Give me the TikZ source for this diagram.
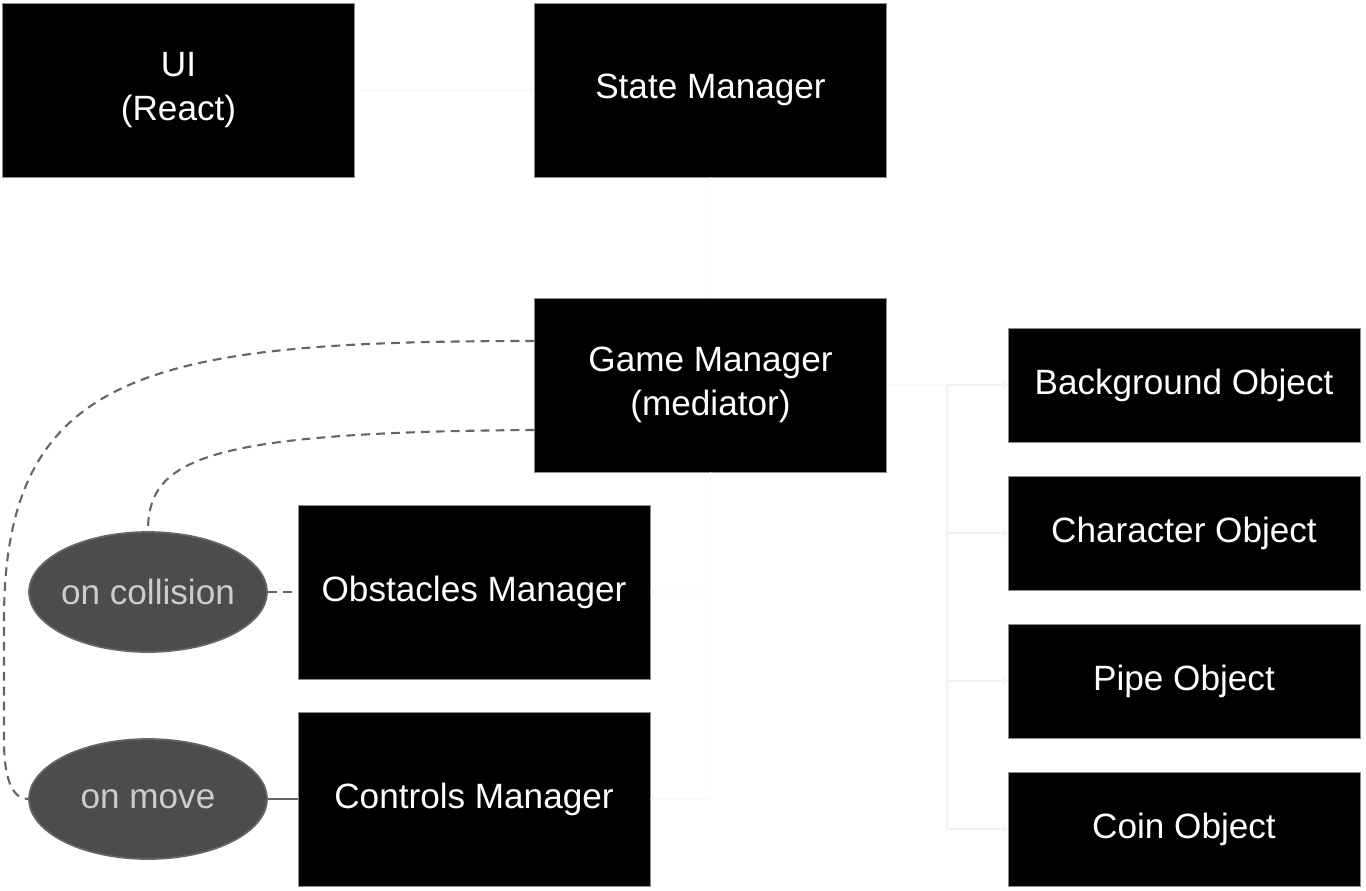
\documentclass[tikz,border=0pt]{standalone}
\usepackage{fontspec}
\setmainfont{Liberation Sans}
\usetikzlibrary{positioning}
\usetikzlibrary{arrows,shapes}
\usetikzlibrary{calc}

\tikzset{
  blk/.style={fill=black, draw=black!45, line width=0.4pt, text=white, align=center,
              minimum width=7.04cm, minimum height=3.48cm, inner sep=0pt,
              font=\fontsize{20}{25}\selectfont},
  obj/.style={blk, minimum height=2.28cm},
  evt/.style={ellipse, fill=black!70, draw=black!60, line width=1pt, text=black!20,
              minimum width=4.76cm, minimum height=2.4cm, inner ysep=0pt, inner xsep=-2pt,
              font=\fontsize{20}{25}\selectfont},
  faint/.style={draw=black!2, line width=1pt, ->},
  tree/.style={faint, draw=black!5},
  evtline/.style={draw=black!60, line width=1.2pt},
  evtdash/.style={evtline, dash pattern=on 5pt off 3.5pt},
}

\begin{document}
\begin{tikzpicture}[x=0.02cm, y=-0.02cm]

  \useasboundingbox (0,0) rectangle (1366,890);

  %draw managers
  \node[blk] (ui)    at (178.5,90)  {UI\\(React)};
  \node[blk] (state) at (710.5,90)  {State Manager};
  \node[blk] (game)  at (710.5,385) {Game Manager\\(mediator)};
  \node[blk] (obst)  at (474,592)   {Obstacles Manager};
  \node[blk] (ctrl)  at (474,799)   {Controls Manager};

  %draw objects
  \foreach \i/\txt/\name in {0/Background Object/bg, 1/Character Object/chr, 2/Pipe Object/pipe, 3/Coin Object/coin}{
      \node[obj] (\name) at (1184, 385+\i*148) {\txt};
  }

  %events
  \node[evt] (coll) at (148,592) {on collision};
  \node[evt] (move) at (148,799) {on move};

  %faint links
  \draw[faint] (ui) -- (state);
  \draw[faint] (game) -- (state);
  \draw[faint] (game.south) |- (obst.east);
  \draw[faint] (game.south) |- (ctrl.east);
  \coordinate (fork) at (947,385);
  \draw[faint,-] (game.east) -- (fork);
  \draw[tree,-] (fork) -- (fork |- coin.west);
  \foreach \name in {bg,chr,pipe,coin}{
      \draw[tree] (fork) |- (\name.west);
  }

  %event links
  \draw[evtdash] (coll) -- (obst);
  \draw[evtline] (move) -- (ctrl);
  \draw[evtdash] ($(game.west)+(0,-44)$) .. controls (150,341) and (4,370) .. (4,620)
        -- (4,740) .. controls (4,785) and (15,799) .. (move.west);
  \draw[evtdash] ($(game.west)+(0,45)$) .. controls (200,432) and (148,460) .. (coll.north);

\end{tikzpicture}
\end{document}
